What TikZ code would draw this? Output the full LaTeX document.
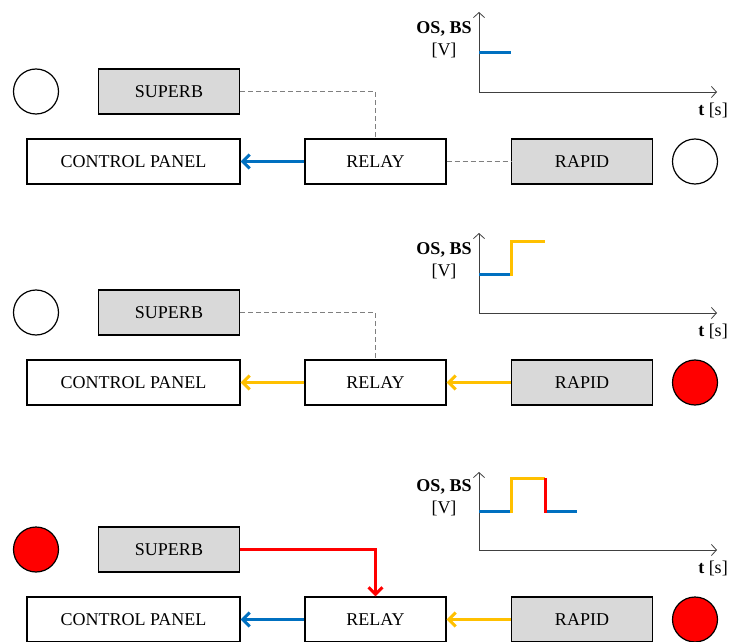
\documentclass[tikz,border=0pt]{standalone}
\usepackage{fontspec}
\setmainfont{Liberation Serif}
\usetikzlibrary{arrows.meta}
\definecolor{cblue}{HTML}{0070C0}
\definecolor{corange}{HTML}{FFC000}
\definecolor{cred}{HTML}{FF0000}
\definecolor{cgray}{HTML}{D9D9D9}
\definecolor{cdash}{HTML}{7F7F7F}
\begin{document}
\begin{tikzpicture}[x=1pt,y=-1pt,
  box/.style={draw, line width=1.2pt, minimum width=141pt, minimum height=45pt, inner sep=0pt, font=\fontsize{18}{21}\selectfont},
  graybox/.style={box, fill=cgray},
  widebox/.style={box, minimum width=213pt},
  lamp/.style={circle, draw, line width=1.2pt, minimum size=45pt, inner sep=0pt},
  sig/.style={line width=3pt, -{Straight Barb[length=7pt,width=14pt]}},
  linkdash/.style={draw=cdash, line width=1.1pt, dash pattern=on 5pt off 3pt},
  axisline/.style={draw=black!75, line width=0.8pt, -{Straight Barb[length=5pt,width=11pt]}},
  trace/.style={line width=3pt},
  lbl/.style={font=\fontsize{18}{21}\selectfont, inner sep=0pt},
  blbl/.style={font=\fontsize{18}{21}\selectfont\bfseries, inner sep=0pt}
]
\useasboundingbox (0,0) rectangle (732,642);

% ---------- Panel 1 ----------
\begin{scope}
\node[graybox] (s1) at (169,91.5) {SUPERB};
\node[widebox] (cp1) at (133.5,161.5) {CONTROL PANEL};
\node[box] (r1) at (375.5,161.5) {RELAY};
\node[graybox] (rp1) at (582,161.5) {RAPID};
\node[lamp] (la1) at (36,91.5) {};
\node[lamp] (lb1) at (695,161.5) {};
\draw[linkdash] (s1.east) -| (r1.north);
\draw[linkdash] (r1.east) -- (rp1.west);
\draw[sig, cblue] (r1.west) -- (cp1.east);
\coordinate (o1) at (479,92);
\coordinate (ya1) at (479,12);
\coordinate (xa1) at (717,92);
\draw[axisline] (o1) -- (ya1);
\draw[axisline] (o1) -- (xa1);
\node[blbl] (yl1) at (444,29) {OS, BS};
\node[lbl] (yu1) at (444,50) {[V]};
\node[lbl] (xl1) at (713,110) {\textbf{t} [s]};
\draw[trace, cblue] (479,53) -- (511,53);
\end{scope}

% ---------- Panel 2 ----------
\begin{scope}[yshift=-221pt]
\node[graybox] (s2) at (169,91.5) {SUPERB};
\node[widebox] (cp2) at (133.5,161.5) {CONTROL PANEL};
\node[box] (r2) at (375.5,161.5) {RELAY};
\node[graybox] (rp2) at (582,161.5) {RAPID};
\node[lamp] (la2) at (36,91.5) {};
\node[lamp, fill=cred] (lb2) at (695,161.5) {};
\draw[linkdash] (s2.east) -| (r2.north);
\draw[sig, corange] (rp2.west) -- (r2.east);
\draw[sig, corange] (r2.west) -- (cp2.east);
\coordinate (o2) at (479,92);
\coordinate (ya2) at (479,12);
\coordinate (xa2) at (717,92);
\draw[axisline] (o2) -- (ya2);
\draw[axisline] (o2) -- (xa2);
\node[blbl] (yl2) at (444,29) {OS, BS};
\node[lbl] (yu2) at (444,50) {[V]};
\node[lbl] (xl2) at (713,110) {\textbf{t} [s]};
\draw[trace, cblue] (479,53) -- (511,53);
\draw[trace, corange] (511,54.5) -- (511,20) -- (545,20);
\end{scope}

% ---------- Panel 3 ----------
\begin{scope}[yshift=-458pt]
\node[graybox] (s3) at (169,91.5) {SUPERB};
\node[widebox] (cp3) at (133.5,161.5) {CONTROL PANEL};
\node[box] (r3) at (375.5,161.5) {RELAY};
\node[graybox] (rp3) at (582,161.5) {RAPID};
\node[lamp, fill=cred] (la3) at (36,91.5) {};
\node[lamp, fill=cred] (lb3) at (695,161.5) {};
\draw[sig, cred] (s3.east) -| (r3.north);
\draw[sig, corange] (rp3.west) -- (r3.east);
\draw[sig, cblue] (r3.west) -- (cp3.east);
\coordinate (o3) at (479,92);
\coordinate (ya3) at (479,14);
\coordinate (xa3) at (717,92);
\draw[axisline] (o3) -- (ya3);
\draw[axisline] (o3) -- (xa3);
\node[blbl] (yl3) at (444,29) {OS, BS};
\node[lbl] (yu3) at (444,50) {[V]};
\node[lbl] (xl3) at (713,110) {\textbf{t} [s]};
\draw[trace, cblue] (479,53) -- (511,53);
\draw[trace, cblue] (545,53) -- (577,53);
\draw[trace, corange] (511,54.5) -- (511,20) -- (545,20);
\draw[trace, cred] (545,20) -- (545,54.5);
\end{scope}
\end{tikzpicture}
\end{document}
